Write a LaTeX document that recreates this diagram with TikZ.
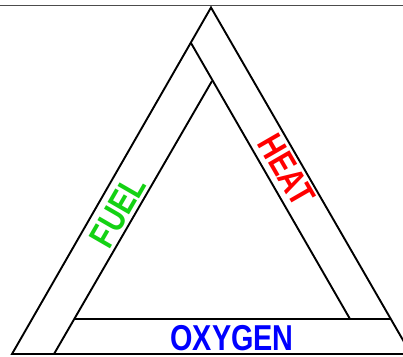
\documentclass[tikz,border=0pt]{standalone}
\usepackage{fontspec}
\setmainfont{Liberation Sans}
\usepackage{graphicx}
\definecolor{fuelgreen}{RGB}{20,210,20}
\tikzset{
  edge/.style={line width=1.9pt, line join=miter},
  lbl/.style={font=\fontsize{36}{36}\selectfont\bfseries, inner sep=0pt, anchor=center},
}
\begin{document}
\begin{tikzpicture}[x=1pt,y=-1pt]
\useasboundingbox (0,0) rectangle (403,356);
\clip (0,0) rectangle (403,356);
\fill[white] (0,0) rectangle (403,356);
% top frame line
\coordinate (TL) at (0,5.5);
\coordinate (TR) at (403,5.5);
\draw[line width=1.3pt, black!70] (TL) -- (TR);
% outer triangle
\coordinate (A) at (211,7.5);
\coordinate (BL) at (12,354);
\coordinate (BR) at (411,354);
% band lines
\coordinate (P1) at (191,43);
\coordinate (P2) at (212,81);
\coordinate (P3) at (350,319);
\coordinate (P4) at (74.5,319);
\coordinate (P6) at (54,354);
\coordinate (P5) at (390.8,319);
\draw[edge] (A) -- (BL) -- (BR) -- cycle;
\draw[edge] (P1) -- (P3);
\draw[edge] (P2) -- (P6);
\draw[edge] (P4) -- (P5);
% labels
\node[lbl, text=fuelgreen, rotate=60] (fuel) at (118,211.5) {\scalebox{0.8}[1]{FUEL}};
\node[lbl, text=red, rotate=-60] (heat) at (286.5,170) {\scalebox{0.8}[1]{HEAT}};
\node[lbl, text=blue] (oxy) at (232,338) {\scalebox{0.8}[1]{OXYGEN}};
\end{tikzpicture}
\end{document}
